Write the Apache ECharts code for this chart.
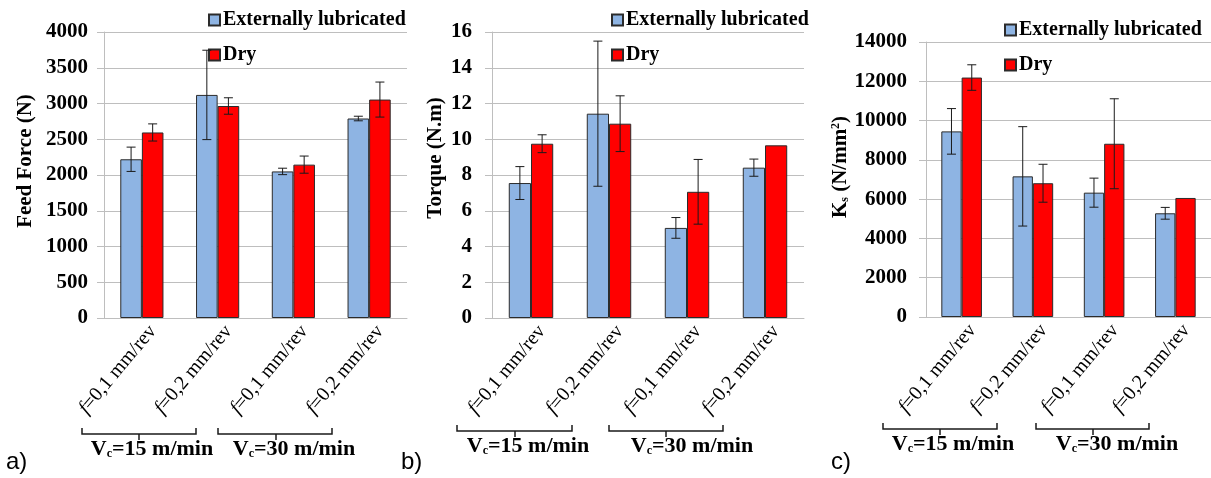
<!DOCTYPE html>
<html>
<head>
<meta charset="utf-8">
<script src="https://cdn.jsdelivr.net/npm/echarts@6/dist/echarts.min.js"></script>
<style>
  html, body { margin: 0; padding: 0; background: #fff; }
  #chart { width: 1211px; height: 478px; }
</style>
</head>
<body>
<div id="chart"></div>
<script>
// Cutting conditions (feed per revolution), grouped by cutting speed
const categories = ['f=0,1 mm/rev', 'f=0,2 mm/rev', 'f=0,1 mm/rev', 'f=0,2 mm/rev'];
const speedGroups = ['15 m/min', '30 m/min'];
const seriesNames = ['Externally lubricated', 'Dry'];

// a) Feed force (N): mean and ± deviation
const feedForceLub = [2220, 3120, 2050, 2790];
const feedForceLubErr = [170, 625, 45, 32];
const feedForceDry = [2595, 2965, 2145, 3055];
const feedForceDryErr = [120, 115, 120, 245];

// b) Torque (N.m)
const torqueLub = [7.55, 11.43, 5.04, 8.41];
const torqueLubErr = [0.92, 4.06, 0.58, 0.48];
const torqueDry = [9.75, 10.87, 7.06, 9.66];
const torqueDryErr = [0.5, 1.56, 1.81, 0];

// c) Specific cutting force Ks (N/mm²)
const ksLub = [9450, 7160, 6330, 5280];
const ksLubErr = [1160, 2530, 740, 300];
const ksDry = [12190, 6810, 8820, 6060];
const ksDryErr = [650, 965, 2290, 0];

// y-axis scales
const feedTicks = { max: 4000, interval: 500 };
const torqueTicks = { max: 16, interval: 2 };
const ksTicks = { max: 14000, interval: 2000 };

const BLUE = '#8EB4E3';
const RED = '#FF0000';
const SERIF = 'Liberation Serif';
const CAT_GAP = 0.43;

const panels = [
  { lub: feedForceLub, lubErr: feedForceLubErr, dry: feedForceDry, dryErr: feedForceDryErr,
    ticks: feedTicks, name: 'Feed Force (N)',
    grid: { left: 104, top: 32, width: 303, height: 286 },
    labelMargin: 16, nameGap: 68, namePad: 28,
    legend: { left: 208, top: 10 } },
  { lub: torqueLub, lubErr: torqueLubErr, dry: torqueDry, dryErr: torqueDryErr,
    ticks: torqueTicks, name: 'Torque (N.m)',
    grid: { left: 492, top: 32, width: 312, height: 286 },
    labelMargin: 20, nameGap: 46, namePad: 34,
    legend: { left: 611, top: 10 } },
  { lub: ksLub, lubErr: ksLubErr, dry: ksDry, dryErr: ksDryErr,
    ticks: ksTicks, name: 'K{s|s} (N/mm{p|2})',
    grid: { left: 926, top: 42, width: 291, height: 275 },
    labelMargin: 19, nameGap: 62, namePad: 25,
    legend: { left: 1004, top: 20 } }
];

// Error bar drawn at the centre of one bar of a two-bar group
function errorBars(side) {
  return function (params, api) {
    const idx = api.value(0), v = api.value(1), e = api.value(2);
    if (!e) return null;
    const band = api.size([1, 0])[0];
    const barW = band * (1 - CAT_GAP) / 2;
    const x = api.coord([idx, 0])[0] + side * barW / 2;
    const yTop = api.coord([idx, v + e])[1];
    const yBot = api.coord([idx, v - e])[1];
    const cap = 4.5;
    const st = { stroke: '#1a1a1a', lineWidth: 1 };
    return {
      type: 'group',
      children: [
        { type: 'line', shape: { x1: x, y1: yTop, x2: x, y2: yBot }, style: st },
        { type: 'line', shape: { x1: x - cap, y1: yTop, x2: x + cap, y2: yTop }, style: st },
        { type: 'line', shape: { x1: x - cap, y1: yBot, x2: x + cap, y2: yBot }, style: st }
      ]
    };
  };
}

const option = {
  animation: false,
  backgroundColor: '#fff',
  textStyle: { fontFamily: SERIF },
  grid: [], xAxis: [], yAxis: [], series: [], legend: [], graphic: []
};

panels.forEach((p, k) => {
  option.grid.push(Object.assign({ containLabel: false }, p.grid));
  option.xAxis.push({
    type: 'category', gridIndex: k, data: categories,
    axisLine: { show: true, lineStyle: { color: '#BEBEBE', width: 1 } },
    axisTick: { show: false },
    axisLabel: {
      interval: 0, rotate: 50, margin: 23, padding: [0, -17, 0, 0],
      fontFamily: SERIF, fontSize: 20, color: '#000',
      formatter: v => '{i|f}' + v.slice(1),
      rich: { i: { fontStyle: 'italic', fontFamily: SERIF, fontSize: 20, color: '#000' } }
    }
  });
  option.yAxis.push({
    type: 'value', gridIndex: k, min: 0, max: p.ticks.max, interval: p.ticks.interval,
    name: p.name, nameLocation: 'middle', nameGap: p.nameGap,
    nameTextStyle: {
      fontFamily: SERIF, fontSize: 21, fontWeight: 'bold', color: '#000',
      padding: [0, 0, 0, p.namePad],
      rich: {
        s: { fontFamily: SERIF, fontSize: 12, fontWeight: 'bold', color: '#000', verticalAlign: 'bottom', lineHeight: 12 },
        p: { fontFamily: SERIF, fontSize: 12, fontWeight: 'bold', color: '#000', verticalAlign: 'top', lineHeight: 12 }
      }
    },
    axisLine: { show: true, lineStyle: { color: '#BEBEBE', width: 1 } },
    axisTick: { show: true, length: 7, lineStyle: { color: '#BEBEBE', width: 1 } },
    axisLabel: {
      margin: p.labelMargin, fontFamily: SERIF, fontSize: 21, fontWeight: 'bold', color: '#000',
      formatter: v => String(v)
    },
    splitLine: { show: true, lineStyle: { color: '#BEBEBE', width: 1 } }
  });
  const barStyle = c => ({ color: c, borderColor: '#2b2b2b', borderWidth: 1 });
  option.series.push({
    name: seriesNames[0], type: 'bar', xAxisIndex: k, yAxisIndex: k,
    data: p.lub, barGap: 0, barCategoryGap: (CAT_GAP * 100) + '%', itemStyle: barStyle(BLUE)
  });
  option.series.push({
    name: seriesNames[1], type: 'bar', xAxisIndex: k, yAxisIndex: k,
    data: p.dry, barGap: 0, barCategoryGap: (CAT_GAP * 100) + '%', itemStyle: barStyle(RED)
  });
  option.series.push({
    type: 'custom', xAxisIndex: k, yAxisIndex: k, z: 5,
    renderItem: errorBars(-1), encode: { x: 0, y: 1 },
    data: p.lub.map((v, i) => [i, v, p.lubErr[i]])
  });
  option.series.push({
    type: 'custom', xAxisIndex: k, yAxisIndex: k, z: 5,
    renderItem: errorBars(1), encode: { x: 0, y: 1 },
    data: p.dry.map((v, i) => [i, v, p.dryErr[i]])
  });
  option.legend.push({
    data: seriesNames, orient: 'vertical', left: p.legend.left, top: p.legend.top,
    padding: 0, itemGap: 15, itemWidth: 11, itemHeight: 11, icon: 'rect',
    selectedMode: false,
    textStyle: { fontFamily: SERIF, fontSize: 20, fontWeight: 'bold', color: '#000', padding: [0, 0, 0, -2] }
  });
});

// Speed brackets under the category labels, and panel letters
const brackets = [
  { x1: 82, x2: 196, xm: 139, y: 434, tx: 152 },
  { x1: 218, x2: 332, xm: 276, y: 434, tx: 294 },
  { x1: 457, x2: 572, xm: 515, y: 431, tx: 528 },
  { x1: 609, x2: 723, xm: 666, y: 431, tx: 692 },
  { x1: 883, x2: 997, xm: 940, y: 429, tx: 953 },
  { x1: 1036, x2: 1149, xm: 1093, y: 429, tx: 1117 }
];
const boldSerif = size => 'bold ' + size + 'px "Liberation Serif"';
brackets.forEach((b, i) => {
  const st = { stroke: '#1a1a1a', lineWidth: 1.5, fill: null };
  option.graphic.push({
    type: 'polyline', silent: true,
    shape: { points: [[b.x1, b.y - 6], [b.x1, b.y], [b.x2, b.y], [b.x2, b.y - 6]] }, style: st
  });
  option.graphic.push({
    type: 'line', silent: true,
    shape: { x1: b.xm, y1: b.y, x2: b.xm, y2: b.y + 6 }, style: st
  });
  option.graphic.push({
    type: 'text', silent: true, x: b.tx, y: b.y + 15,
    style: {
      text: '{m|V}{s|c}{m|=' + speedGroups[i % 2] + '}',
      align: 'center', verticalAlign: 'middle',
      font: boldSerif(22), fill: '#000',
      rich: {
        m: { font: boldSerif(22), fontFamily: SERIF, fontSize: 22, fontWeight: 'bold', fill: '#000' },
        s: { font: boldSerif(12), fontFamily: SERIF, fontSize: 12, fontWeight: 'bold', fill: '#000', verticalAlign: 'bottom', lineHeight: 12 }
      }
    }
  });
});
[['a)', 6], ['b)', 401], ['c)', 831]].forEach(([t, x]) => {
  option.graphic.push({
    type: 'text', silent: true, x: x, y: 462,
    style: { text: t, align: 'left', verticalAlign: 'middle', font: '24px "Liberation Sans"', fill: '#000' }
  });
});

const chart = echarts.init(document.getElementById('chart'), null, { renderer: 'canvas' });
chart.setOption(option);
</script>
</body>
</html>
